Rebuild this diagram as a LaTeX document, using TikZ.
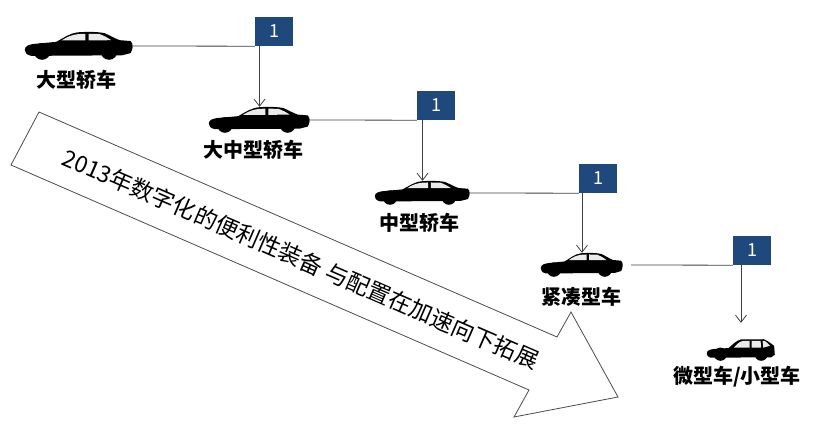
\documentclass[tikz,border=0pt]{standalone}
\usepackage{fontspec}
\setmainfont{Noto Sans CJK SC}
\usetikzlibrary{arrows.meta}
\definecolor{boxblue}{RGB}{31,73,125}

\begin{document}
\begin{tikzpicture}[x=1pt, y=-1pt,
    link/.style = {draw=black!75, line width=0.8pt},
    >={Straight Barb[length=7pt,width=11pt]},
    badge/.style = {fill=boxblue, text=white, minimum width=38pt, minimum height=29pt, inner sep=0pt, font=\fontsize{18}{18}\selectfont},
    lbl/.style = {inner sep=0pt, font=\fontsize{20}{20}\selectfont\bfseries},
    slogan/.style = {inner sep=0pt, rotate=-23.5, font=\fontsize{23}{23}\selectfont},
    bigarrow/.style = {draw=black!70, fill=white, line width=0.8pt, line join=miter},
    spot/.style 2 args = {minimum width=#1pt, minimum height=#2pt, inner sep=0pt},
    pics/sedan/.style 2 args = {code={\begin{scope}[x=#1pt, y=-#2pt]
        \fill (0,0.64) .. controls (0,0.5) and (0.04,0.44) .. (0.12,0.42) -- (0.29,0.36)
          .. controls (0.36,0.22) and (0.41,0.06) .. (0.49,0.02) .. controls (0.58,-0.01) and (0.68,0) .. (0.74,0.05)
          .. controls (0.79,0.13) and (0.84,0.25) .. (0.88,0.3) -- (0.98,0.33)
          .. controls (1.01,0.45) and (1,0.62) .. (0.98,0.76) -- (0.9,0.84) -- (0.06,0.86)
          .. controls (0.01,0.82) and (0,0.72) .. cycle;
        \fill (0.16,0.7) circle[radius=#2*0.3pt] (0.78,0.7) circle[radius=#2*0.3pt];
        \fill[black!8] (0.34,0.31) .. controls (0.39,0.18) and (0.44,0.1) .. (0.5,0.08) -- (0.56,0.07) -- (0.56,0.31) -- cycle
          (0.59,0.07) -- (0.69,0.08) .. controls (0.73,0.13) and (0.77,0.22) .. (0.8,0.3) -- (0.59,0.31) -- cycle;
      \end{scope}}},
    pics/hatch/.style 2 args = {code={\begin{scope}[x=#1pt, y=-#2pt]
        \fill (0,0.66) .. controls (0,0.52) and (0.05,0.48) .. (0.12,0.46) -- (0.32,0.42)
          .. controls (0.38,0.25) and (0.44,0.08) .. (0.5,0.03) -- (0.84,0.02)
          .. controls (0.9,0.1) and (0.96,0.25) .. (0.99,0.32) -- (1,0.72) -- (0.95,0.84) -- (0.05,0.86)
          .. controls (0.01,0.82) and (0,0.74) .. cycle;
        \fill (0.2,0.7) circle[radius=#2*0.3pt] (0.8,0.7) circle[radius=#2*0.3pt];
        \fill[black!8] (0.4,0.4) .. controls (0.44,0.25) and (0.48,0.12) .. (0.53,0.1) -- (0.63,0.09) -- (0.63,0.4) -- cycle
          (0.66,0.09) -- (0.79,0.09) -- (0.8,0.4) -- (0.66,0.4) -- cycle
          (0.82,0.09) -- (0.85,0.09) .. controls (0.88,0.15) and (0.91,0.24) .. (0.93,0.32) -- (0.83,0.4) -- cycle;
      \end{scope}}}]
  \useasboundingbox (0,0) rectangle (816,427);
  \draw[bigarrow] (39,112) -- (557,337) -- (571,312) -- (618,397) -- (514,417) -- (529,390) -- (11,165) -- cycle;
  \node[slogan] (s) at (301,259) {2013年数字化的便利性装备 与配置在加速向下拓展};

  \node[spot={108}{28}] (car1) at (79,46) {};
  \node[spot={101}{26}] (car2) at (259.5,120) {};
  \node[spot={95}{24}] (car3) at (422.5,193) {};
  \node[spot={82}{24}] (car4) at (582,265) {};
  \node[spot={68}{22}] (car5) at (741,350) {};
  \pic at (car1.north west) {sedan={108}{28}};
  \pic at (car2.north west) {sedan={101}{26}};
  \pic at (car3.north west) {sedan={95}{24}};
  \pic at (car4.north west) {sedan={82}{24}};
  \pic at (car5.north west) {hatch={68}{22}};

  \node[lbl] (t1) at (76,79.5) {大型轿车};
  \node[lbl] (t2) at (253,150) {大中型轿车};
  \node[lbl] (t3) at (419,223) {中型轿车};
  \node[lbl] (t4) at (581,297) {紧凑型车};
  \node[lbl] (t5) at (737,377) {微型车/小型车};

  \node[badge] (b1) at (274,31.5) {1};
  \node[badge] (b2) at (436,105.5) {1};
  \node[badge] (b3) at (598,178.5) {1};
  \node[badge] (b4) at (752,250.5) {1};

  \draw[link] (car1.east) -- (b1.south west);
  \draw[link,->] (b1.south west -| car2.north) -- (car2.north);
  \draw[link] (car2.east) -- (b2.south west);
  \draw[link,->] (b2.south west -| car3.north) -- (car3.north);
  \draw[link] (car3.east) -- (b3.south west);
  \draw[link,->] (b3.south west -| car4.north) -- (car4.north);
  \draw[link] ([xshift=8pt]car4.east) -- (b4.south west);
  \draw[link,->] (b4.south west -| car5.north) -- ([yshift=16pt]car5.north);
\end{tikzpicture}
\end{document}
